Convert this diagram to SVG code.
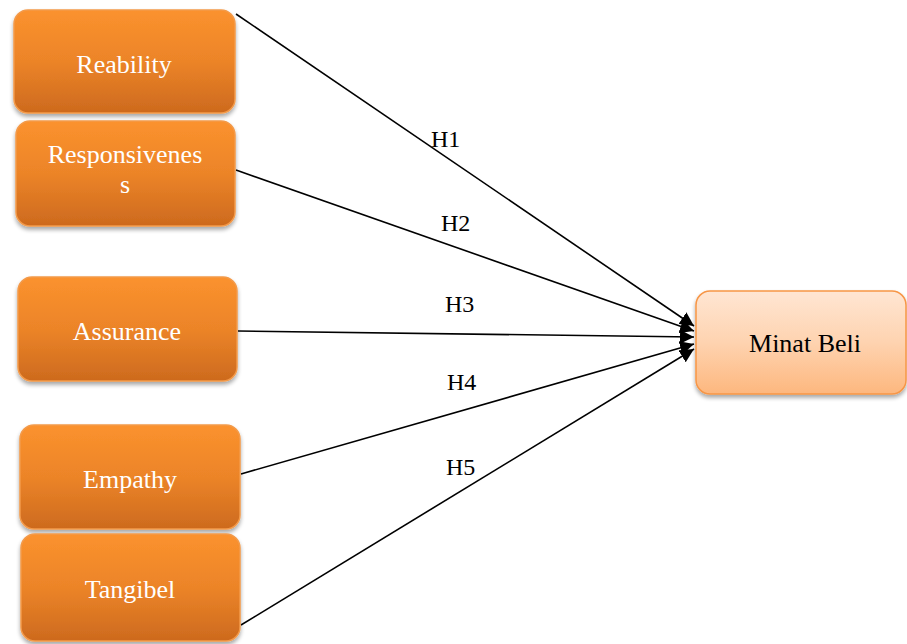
<svg xmlns="http://www.w3.org/2000/svg" width="907" height="644" viewBox="0 0 907 644">
<defs>
<linearGradient id="og" x1="0" y1="0" x2="0" y2="1">
<stop offset="0" stop-color="#FB922E"/>
<stop offset="0.5" stop-color="#EC8428"/>
<stop offset="1" stop-color="#CD6A1E"/>
</linearGradient>
<linearGradient id="pg" x1="0" y1="0" x2="0" y2="1">
<stop offset="0" stop-color="#FFE6D3"/>
<stop offset="0.5" stop-color="#FED3B0"/>
<stop offset="1" stop-color="#FDB77E"/>
</linearGradient>
<filter id="sh" x="-10%" y="-10%" width="120%" height="130%">
<feGaussianBlur in="SourceAlpha" stdDeviation="2"/>
<feOffset dx="0" dy="3"/>
<feComponentTransfer><feFuncA type="linear" slope="0.35"/></feComponentTransfer>
<feMerge><feMergeNode/><feMergeNode in="SourceGraphic"/></feMerge>
</filter>
<marker id="ahb" markerWidth="14" markerHeight="14" viewBox="0 0 14 14" refX="14" refY="7" orient="auto" markerUnits="userSpaceOnUse">
<path d="M0,0 L14,7 L0,14 Z" fill="#000"/>
</marker>
</defs>
<style>
.n{fill:url(#og);stroke:#F39A4A;stroke-width:1.5;filter:url(#sh)}
.t{font-family:"Liberation Serif","Times New Roman",serif;font-size:26px;fill:#fff;text-anchor:middle}
.m{fill:url(#pg);stroke:#F79646;stroke-width:1.5;filter:url(#sh)}
.tm{font-family:"Liberation Serif","Times New Roman",serif;font-size:26px;fill:#000;text-anchor:middle}
.l{font-family:"Liberation Serif","Times New Roman",serif;font-size:24px;fill:#000}
.c{stroke:#000;stroke-width:1.6;fill:none;marker-end:url(#ahb)}
</style>
<rect width="907" height="644" fill="#fff"/>
<g id="connectors">
<line class="c" x1="236" y1="14" x2="694" y2="326"/>
<line class="c" x1="236" y1="170" x2="694" y2="331"/>
<line class="c" x1="238" y1="331" x2="694" y2="337"/>
<line class="c" x1="241" y1="474" x2="694" y2="344"/>
<line class="c" x1="241" y1="625" x2="694" y2="349"/>
<text class="l" x="431" y="147">H1</text>
<text class="l" x="441" y="231">H2</text>
<text class="l" x="445" y="312">H3</text>
<text class="l" x="447" y="390">H4</text>
<text class="l" x="446" y="475">H5</text>
</g>
<g id="reability">
<rect class="n" x="14" y="10" width="221" height="103" rx="14"/>
<text class="t" x="124" y="73">Reability</text>
</g>
<g id="responsiveness">
<rect class="n" x="16" y="121" width="219" height="105" rx="14"/>
<text class="t" x="125" y="163">Responsivenes</text>
<text class="t" x="125" y="193">s</text>
</g>
<g id="assurance">
<rect class="n" x="18" y="277" width="219" height="104" rx="14"/>
<text class="t" x="127" y="340">Assurance</text>
</g>
<g id="empathy">
<rect class="n" x="20" y="425" width="220" height="104" rx="14"/>
<text class="t" x="130" y="488">Empathy</text>
</g>
<g id="tangibel">
<rect class="n" x="21" y="534" width="219" height="107" rx="14"/>
<text class="t" x="130" y="598">Tangibel</text>
</g>
<g id="minat-beli">
<rect class="m" x="696" y="291" width="210" height="103" rx="14"/>
<text class="tm" x="805" y="352">Minat Beli</text>
</g>
</svg>
